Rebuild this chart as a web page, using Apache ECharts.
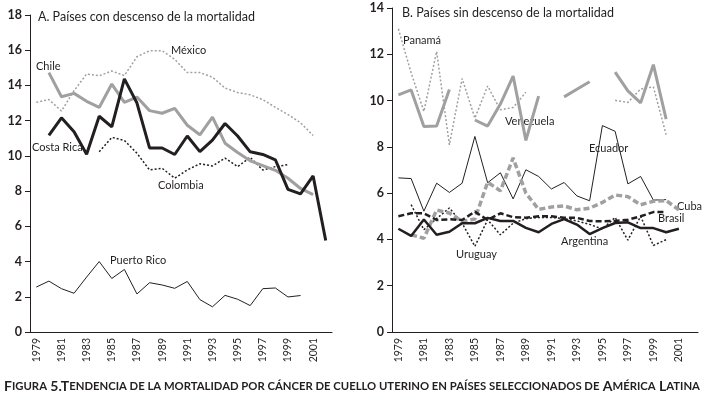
<!DOCTYPE html>
<html>
<head>
<meta charset="utf-8">
<script src="https://cdn.jsdelivr.net/npm/echarts@6/dist/echarts.min.js"></script>
<style>
  html, body { margin: 0; padding: 0; background: #fff; }
  #chart { width: 706px; height: 397px; }
</style>
</head>
<body>
<div id="chart"></div>
<script>
const years = ['1979', '1980', '1981', '1982', '1983', '1984', '1985', '1986', '1987', '1988', '1989', '1990',
  '1991', '1992', '1993', '1994', '1995', '1996', '1997', '1998', '1999', '2000', '2001', '2002'];

// A. países con descenso
const chile = [null, 14.73, 13.36, 13.55, 13.1, 12.75, 14.08, 13.04, 13.34, 12.57, 12.42, 12.7, 11.74, 11.2, 12.2,
  10.72, 10.19, 9.72, 9.45, 9.18, 8.73, 8.15, 7.8, null];
const costaRica = [null, 11.16, 12.16, 11.37, 10.09, 12.25, 11.65, 14.37, 13.0, 10.45, 10.45, 10.08, 11.13, 10.24,
  10.9, 11.84, 11.13, 10.23, 10.08, 9.78, 8.1, 7.84, 8.86, 5.2];
const mexico = [13.04, 13.2, 12.55, 13.7, 14.65, 14.55, 14.82, 14.56, 15.63, 15.97, 15.97, 15.48, 14.73, 14.73,
  14.47, 13.85, 13.6, 13.47, 13.19, 12.76, 12.35, 11.88, 11.16, null];
const colombia = [null, null, null, null, null, 10.24, 11.05, 10.88, 10.15, 9.2, 9.3, 8.73, 9.2, 9.55, 9.43, 9.87,
  9.39, 9.92, 9.2, 9.39, 9.5, null, null, null];
const puertoRico = [2.55, 2.89, 2.46, 2.2, 3.12, 4.0, 3.04, 3.55, 2.16, 2.8, 2.67, 2.48, 2.87, 1.84, 1.43, 2.08,
  1.86, 1.5, 2.46, 2.5, 1.99, 2.07, null, null];

// B. países sin descenso
const venezuela = [10.25, 10.46, 8.88, 8.9, 10.48, null, 9.16, 8.9, 9.85, 11.06, 8.28, 10.19, null, 10.16, 10.49,
  10.81, null, 11.23, 10.42, 9.9, 11.55, 9.2, null, null];
const panama = [13.1, 11.2, 9.53, 12.12, 8.09, 10.95, 9.24, 10.63, 9.6, 9.7, 10.36, null, null, null, null, null,
  null, 10.01, 9.92, 10.5, 10.59, 8.53, null, null];
const ecuador = [6.66, 6.63, 5.22, 6.43, 6.03, 6.43, 8.45, 6.45, 6.88, 5.75, 7.01, 6.72, 6.18, 6.46, 5.88, 5.67,
  8.92, 8.67, 6.4, 6.72, 5.7, 5.72, null, null];
const cuba = [null, 4.2, 4.05, 5.27, 5.14, 4.77, 4.88, 6.47, 6.1, 7.52, 6.0, 5.3, 5.4, 5.45, 5.28, 5.35, 5.6, 5.92,
  5.85, 5.5, 5.65, 5.68, 5.28, null];
const brasil = [5.0, 5.13, 5.13, 4.84, 4.87, 4.84, 5.2, 4.84, 5.13, 4.96, 4.94, 5.0, 5.0, 4.94, 4.93, 4.8, 4.78,
  4.8, 4.85, 5.0, 5.18, 5.18, null, null];
const argentina = [4.46, 4.15, 4.86, 4.2, 4.33, 4.7, 4.7, 4.93, 4.8, 4.8, 4.5, 4.31, 4.67, 4.88, 4.64, 4.23, 4.49,
  4.71, 4.74, 4.49, 4.49, 4.31, 4.46, null];
const uruguay = [null, 5.5, 4.42, 4.9, 5.36, 4.7, 3.7, 4.85, 4.2, 4.7, 4.9, 4.95, 4.95, 4.9, 4.8, 4.65, 4.45, 4.95,
  3.97, 5.0, 3.74, 3.99, null, null];

const FONT = 'Lato';
const INK = '#231f20';
const GRAY = '#a0a0a0';
const DOT = [2, 2];
const DASH = [6, 3];

const chart = echarts.init(document.getElementById('chart'));

const line = (name, data, idx, color, width, type) => ({
  name,
  type: 'line',
  data,
  xAxisIndex: idx,
  yAxisIndex: idx,
  symbol: 'none',
  connectNulls: false,
  silent: true,
  z: width > 2 ? 3 : 2,
  lineStyle: { color, width, type: type || 'solid' },
});

const xAxis = (idx) => ({
  gridIndex: idx,
  type: 'category',
  data: years,
  boundaryGap: true,
  axisLine: { lineStyle: { color: INK, width: 1 } },
  axisTick: { interval: 0, length: 5, lineStyle: { color: INK } },
  axisLabel: { interval: 1, rotate: 90, margin: 6, fontFamily: FONT, fontSize: 10.5, color: INK },
});

const yAxis = (idx, max) => ({
  gridIndex: idx,
  type: 'value',
  min: 0,
  max,
  interval: 2,
  axisLine: { show: true, lineStyle: { color: INK, width: 1 } },
  axisTick: { show: true, length: 5, lineStyle: { color: INK } },
  splitLine: { show: false },
  axisLabel: { margin: 8, fontFamily: FONT, fontWeight: 'bold', fontSize: 12.5, color: INK },
});

const label = (text, x, y, size) => ({
  type: 'text',
  x,
  y,
  silent: true,
  style: { text, fill: INK, font: `${size || 11}px ${FONT}`, verticalAlign: 'middle' },
});

const option = {
  animation: false,
  grid: [
    { left: 30, top: 15, width: 302, height: 317 },
    { left: 392, top: 8, width: 306, height: 324 },
  ],
  xAxis: [xAxis(0), xAxis(1)],
  yAxis: [yAxis(0, 18), yAxis(1, 14)],
  series: [
    line('México', mexico, 0, GRAY, 1.5, DOT),
    line('Colombia', colombia, 0, INK, 1.5, DOT),
    line('Puerto Rico', puertoRico, 0, INK, 1),
    line('Chile', chile, 0, GRAY, 3),
    line('Costa Rica', costaRica, 0, INK, 3),

    line('Panamá', panama, 1, GRAY, 1.5, DOT),
    line('Ecuador', ecuador, 1, INK, 1),
    line('Uruguay', uruguay, 1, INK, 1.5, DOT),
    line('Cuba', cuba, 1, GRAY, 3.5, DASH),
    line('Brasil', brasil, 1, INK, 2.5, DASH),
    line('Argentina', argentina, 1, INK, 2.5),
    line('Venezuela', venezuela, 1, GRAY, 3),
  ],
  graphic: [
    label('A. Países con descenso de la mortalidad', 38, 17, 12.5),
    label('México', 171, 50),
    label('Chile', 36, 66),
    label('Costa Rica', 32, 147),
    label('Colombia', 158, 185),
    label('Puerto Rico', 110, 260),
    label('B. Países sin descenso de la mortalidad', 402, 13, 12.5),
    label('Panamá', 403, 40),
    label('Venezuela', 505, 121),
    label('Ecuador', 589, 148),
    label('Cuba', 677, 206),
    label('Brasil', 658, 218),
    label('Argentina', 561, 241),
    label('Uruguay', 456, 254),
    {
      type: 'text',
      x: 4,
      y: 386,
      silent: true,
      style: {
        text: '{a|F}{b|IGURA} {a|5.T}{b|ENDENCIA DE LA MORTALIDAD POR CÁNCER DE CUELLO UTERINO EN PAÍSES SELECCIONADOS DE} {a|A}{b|MÉRICA} {a|L}{b|ATINA}',
        verticalAlign: 'middle',
        rich: {
          a: { fontFamily: FONT, fontWeight: 'bold', fontSize: 14, fill: INK },
          b: { fontFamily: FONT, fontWeight: 'bold', fontSize: 11.3, fill: INK },
        },
      },
    },
  ],
};

chart.setOption(option);
</script>
</body>
</html>
